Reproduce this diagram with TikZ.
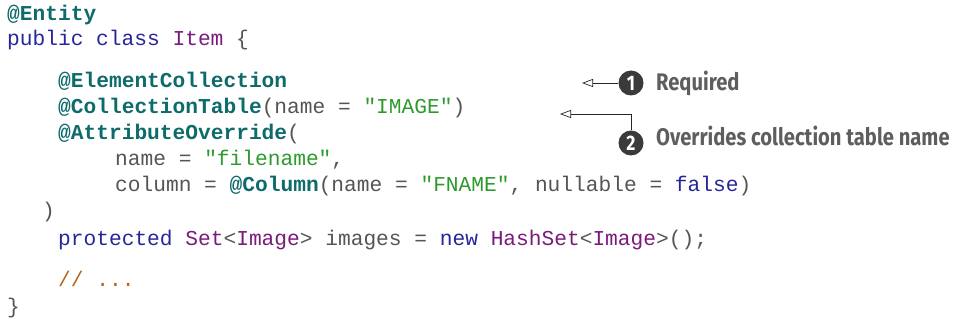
\documentclass[tikz,border=0pt]{standalone}
\usepackage{fontspec}
\setmonofont{Liberation Mono}
\newfontfamily\annofont[FakeStretch=0.84]{Fira Sans}
\usetikzlibrary{positioning,arrows.meta}

\definecolor{annotcol}{HTML}{0E6B6B}
\definecolor{keycol}{HTML}{26269A}
\definecolor{typecol}{HTML}{7A1A7A}
\definecolor{strcol}{HTML}{2E9A2E}
\definecolor{plaincol}{HTML}{555555}
\definecolor{cmtcol}{HTML}{B5651D}
\definecolor{notecol}{HTML}{5E5E5E}
\definecolor{bubblecol}{HTML}{3A3A3A}

\newcommand{\jann}[1]{\textcolor{annotcol}{\bfseries #1}}
\newcommand{\jkw}[1]{\textcolor{keycol}{#1}}
\newcommand{\jtype}[1]{\textcolor{typecol}{#1}}
\newcommand{\jstr}[1]{\textcolor{strcol}{#1}}
\newcommand{\jcmt}[1]{\textcolor{cmtcol}{#1}}

\tikzset{
  codeline/.style={anchor=base west, inner sep=0pt, text=plaincol,
    font=\ttfamily\fontsize{21.2}{24}\selectfont},
  num/.style={circle, fill=bubblecol, text=white, inner sep=0pt,
    minimum size=25pt, font=\annofont\bfseries\fontsize{21}{21}\selectfont},
  note/.style={anchor=base west, inner sep=0pt, text=notecol,
    font=\annofont\bfseries\fontsize{24}{26}\selectfont},
  callout/.style={draw=black!85, line width=0.7pt,
    -{Triangle[open, length=11pt, width=8pt]}}
}

\begin{document}
\begin{tikzpicture}[x=1pt, y=-1pt]
    \useasboundingbox (0,0) rectangle (953,320);

    % code listing
    \node[codeline] (l1) at (7,21) {\jann{@Entity}};
    \node[codeline] (l2) at (7,46) {\jkw{public class} \jtype{Item} \{};
    \node[codeline] (l3) at (58,88) {\jann{@ElementCollection}};
    \node[codeline] (l4) at (58,114) {\jann{@CollectionTable}(name = \jstr{"IMAGE"})};
    \node[codeline] (l5) at (58,140) {\jann{@AttributeOverride}(};
    \node[codeline] (l6) at (115,166) {name = \jstr{"filename"},};
    \node[codeline] (l7) at (115,192) {column = \jann{@Column}(name = \jstr{"FNAME"}, nullable = \jkw{false})};
    \node[codeline] (l8) at (42,218) {)};
    \node[codeline] (l9) at (58,246) {\jkw{protected} \jtype{Set}<\jtype{Image}> images = \jkw{new} \jtype{HashSet}<\jtype{Image}>();};
    \node[codeline] (l10) at (58,287) {\jcmt{// ...}};
    \node[codeline] (l11) at (7,314) {\}};

    % callouts
    \node[num] (c1) at (631,83) {1};
    \node[num] (c2) at (631,143) {2};
    \node[note] (t1) at (656,91) {Required};
    \node[note] (t2) at (656,146) {Overrides collection table name};

    \coordinate (a1) at (582,83);
    \coordinate (a2) at (560,114);
    \draw[callout] (c1) -- (a1);
    \draw[callout] (c2) |- (a2);
\end{tikzpicture}
\end{document}
